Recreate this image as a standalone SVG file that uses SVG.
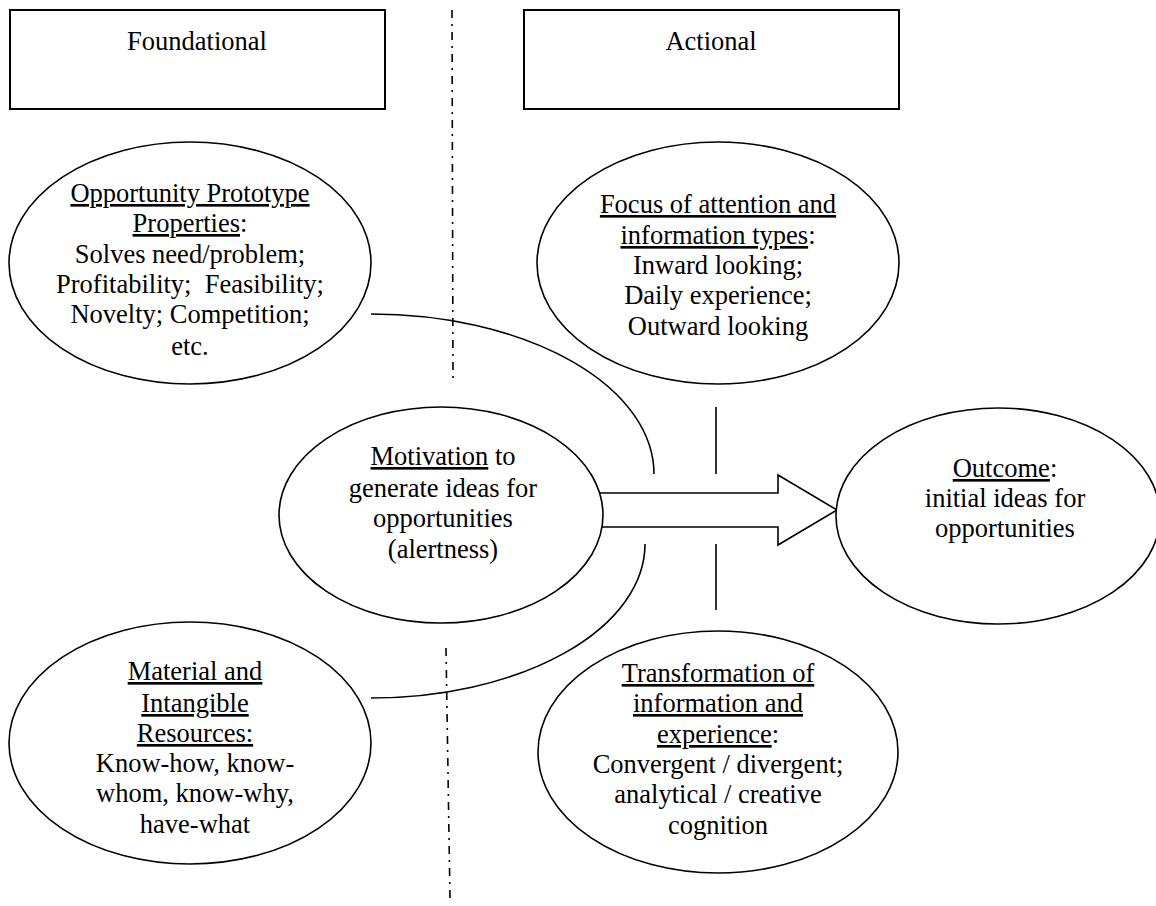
<svg xmlns="http://www.w3.org/2000/svg" width="1156" height="906" viewBox="0 0 1156 906">
<style>
  .t { font-family: 'Liberation Serif', 'DejaVu Serif', serif; font-size: 26.5px; fill: #000; text-anchor: middle; }
  .u { text-decoration: underline; }
  .shape { fill: #fff; stroke: #000; stroke-width: 1.6; }
  .box { fill: #fff; stroke: #000; stroke-width: 2; }
  .line { fill: none; stroke: #000; stroke-width: 1.6; }
  .divider { fill: none; stroke: #000; stroke-width: 1.6; stroke-dasharray: 8 6 2 6; }
</style>
<rect width="1156" height="906" fill="#fff"/>

<g id="dividers">
  <line class="divider" x1="452" y1="10" x2="453" y2="380"/>
  <line class="divider" x1="446" y1="648" x2="450" y2="898"/>
</g>

<g id="header-foundational">
  <rect class="box" x="10" y="10" width="375" height="99"/>
  <text class="t" x="197" y="50" font-family="Liberation Serif, serif">Foundational</text>
</g>
<g id="header-actional">
  <rect class="box" x="524" y="10" width="375" height="99"/>
  <text class="t" x="711" y="50" font-family="Liberation Serif, serif">Actional</text>
</g>

<g id="connectors">
  <path class="line" d="M371,314 A283,160 0 0 1 654,474"/>
  <path class="line" d="M371,698 A274,154 0 0 0 645,544"/>
  <line class="line" x1="716" y1="407" x2="716" y2="474"/>
  <line class="line" x1="716" y1="544" x2="716" y2="610"/>
  <path class="shape" d="M600,493 H778 V475 L837,510 L778,545 V527 H600"/>
</g>

<g id="node-opportunity" font-family="Liberation Serif, serif">
  <ellipse class="shape" cx="190" cy="263" rx="181" ry="121"/>
  <text class="t" x="190" y="202"><tspan class="u">Opportunity Prototype</tspan></text>
  <text class="t" x="190" y="232"><tspan class="u">Properties</tspan>:</text>
  <text class="t" x="190" y="263">Solves need/problem;</text>
  <text class="t" x="190" y="293" style="white-space:pre">Profitability;  Feasibility;</text>
  <text class="t" x="190" y="323">Novelty; Competition;</text>
  <text class="t" x="190" y="355">etc.</text>
</g>

<g id="node-focus">
  <ellipse class="shape" cx="718" cy="263" rx="181" ry="121"/>
  <text class="t" x="718" y="213"><tspan class="u">Focus of attention and</tspan></text>
  <text class="t" x="718" y="244"><tspan class="u">information types</tspan>:</text>
  <text class="t" x="718" y="274">Inward looking;</text>
  <text class="t" x="718" y="304">Daily experience;</text>
  <text class="t" x="718" y="335">Outward looking</text>
</g>

<g id="node-motivation">
  <ellipse class="shape" cx="441" cy="515" rx="162" ry="108"/>
  <text class="t" x="443" y="465"><tspan class="u">Motivation</tspan> to</text>
  <text class="t" x="443" y="497">generate ideas for</text>
  <text class="t" x="443" y="527">opportunities</text>
  <text class="t" x="443" y="558">(alertness)</text>
</g>

<g id="node-outcome">
  <ellipse class="shape" cx="998" cy="516" rx="162" ry="108"/>
  <text class="t" x="1005" y="477"><tspan class="u">Outcome</tspan>:</text>
  <text class="t" x="1005" y="507">initial ideas for</text>
  <text class="t" x="1005" y="537">opportunities</text>
</g>

<g id="node-material">
  <ellipse class="shape" cx="190" cy="743" rx="181" ry="121"/>
  <text class="t" x="195" y="680"><tspan class="u">Material and</tspan></text>
  <text class="t" x="195" y="712"><tspan class="u">Intangible</tspan></text>
  <text class="t" x="195" y="742"><tspan class="u">Resources:</tspan></text>
  <text class="t" x="195" y="772">Know-how, know-</text>
  <text class="t" x="195" y="802">whom, know-why,</text>
  <text class="t" x="195" y="833">have-what</text>
</g>

<g id="node-transformation">
  <ellipse class="shape" cx="718" cy="752" rx="180" ry="121"/>
  <text class="t" x="718" y="682"><tspan class="u">Transformation of</tspan></text>
  <text class="t" x="718" y="712"><tspan class="u">information and</tspan></text>
  <text class="t" x="718" y="743"><tspan class="u">experience</tspan>:</text>
  <text class="t" x="718" y="773">Convergent / divergent;</text>
  <text class="t" x="718" y="803">analytical / creative</text>
  <text class="t" x="718" y="834">cognition</text>
</g>
</svg>
